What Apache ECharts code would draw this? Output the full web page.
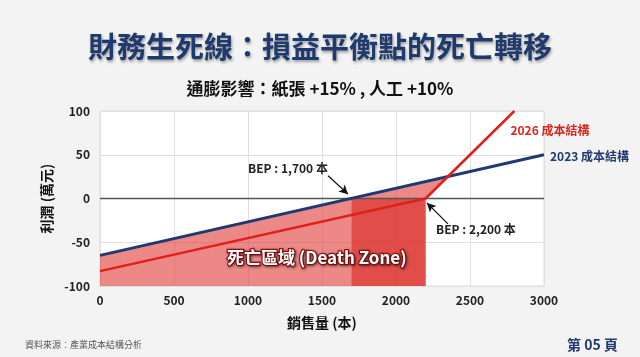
<!DOCTYPE html>
<html><head><meta charset="utf-8">
<script src="https://cdn.jsdelivr.net/npm/echarts@6/dist/echarts.min.js"></script>
<style>html,body{margin:0;padding:0;background:#f3f3f3;}#c{width:640px;height:357px;}</style>
</head><body><div id="c"></div>
<script>
// ---- data ----
const xTicks = [0, 500, 1000, 1500, 2000, 2500, 3000];
const yTicks = [-100, -50, 0, 50, 100];
const line2023X = [0, 3000];
const line2023Y = [-65, 50];
const line2026X = [0, 2200, 2800];
const line2026Y = [-83, 0, 100];
const bep2023 = 1700;
const bep2026 = 2200;
const crossPoint = [2330, 23];
const arrow1 = [[1541, 26], [1676, 5]];
const arrow2 = [[2351, -29], [2209, -5]];
const bepLabels = ['BEP : 1,700 本', 'BEP : 2,200 本'];
const bepLabelPos = [[1270, 34], [2540, -35]];

const F = '"Noto Sans CJK TC","Noto Sans",sans-serif';
const chart = echarts.init(document.getElementById('c'));
const yMin = yTicks[0];
const lightPoly = [[0, yMin], [line2023X[0], line2023Y[0]], crossPoint, [bep2026, 0], [bep2026, yMin]];
const darkPoly = [[bep2023, yMin], [bep2023, 0], [bep2026, 0], [bep2026, yMin]];

function polySeries(poly, color, z) {
  return {
    type: 'custom', z: z, silent: true,
    data: [0],
    renderItem: function (params, api) {
      return { type: 'polygon', shape: { points: poly.map(p => api.coord(p)) }, style: { fill: color } };
    }
  };
}

chart.setOption({
  backgroundColor: '#f3f3f3',
  animation: false,
  title: [
    { text: '財務生死線：損益平衡點的死亡轉移', left: 'center', top: 27,
      textStyle: { fontFamily: F, fontSize: 29, fontWeight: 'bold', color: '#1f3a6e',
        textShadowColor: 'rgba(0,0,0,0.35)', textShadowBlur: 3, textShadowOffsetX: 1, textShadowOffsetY: 2 } },
    { text: '通膨影響：紙張 +15% , 人工 +10%', left: 'center', top: 75,
      textStyle: { fontFamily: F, fontSize: 17, fontWeight: 'bold', color: '#111' } },
    { text: '資料來源：產業成本結構分析', left: 20, top: 335,
      textStyle: { fontFamily: F, fontSize: 9, fontWeight: 'normal', color: '#555' } },
    { text: '第 05 頁', right: 17, top: 333,
      textStyle: { fontFamily: F, fontSize: 14, fontWeight: 'bold', color: '#1f3a6e' } }
  ],
  grid: { left: 100, right: 96, top: 111, bottom: 71, show: true, backgroundColor: '#ffffff', borderColor: '#dcdcdc', borderWidth: 1 },
  xAxis: {
    type: 'value', min: xTicks[0], max: xTicks[xTicks.length - 1], interval: 500,
    name: '銷售量 (本)', nameLocation: 'middle', nameGap: 30,
    nameTextStyle: { fontFamily: F, fontSize: 14, fontWeight: 'bold', color: '#111' },
    axisLine: { show: false }, axisTick: { show: false },
    axisLabel: { fontFamily: F, fontSize: 12, fontWeight: 'bold', color: '#222', margin: 8, formatter: v => String(v) },
    splitLine: { lineStyle: { color: '#e0e0e0' } }
  },
  yAxis: {
    type: 'value', min: yTicks[0], max: yTicks[yTicks.length - 1], interval: 50,
    name: '利潤 (萬元)', nameLocation: 'middle', nameGap: 46, nameRotate: 90,
    nameTextStyle: { fontFamily: F, fontSize: 14, fontWeight: 'bold', color: '#111' },
    axisLine: { show: false }, axisTick: { show: false },
    axisLabel: { fontFamily: F, fontSize: 12, fontWeight: 'bold', color: '#222', margin: 10, formatter: v => String(v) },
    splitLine: { lineStyle: { color: '#e0e0e0' } }
  },
  series: [
    polySeries(lightPoly, 'rgba(224,58,54,0.6)', 1),
    polySeries(darkPoly, 'rgba(218,38,34,0.6)', 2),
    {
      type: 'line', z: 3, symbol: 'none', silent: true,
      data: [[xTicks[0], 0], [xTicks[xTicks.length - 1], 0]],
      lineStyle: { color: '#555', width: 1.5 }
    },
    {
      type: 'line', z: 5, symbol: 'none',
      data: line2023X.map((x, i) => [x, line2023Y[i]]),
      lineStyle: { color: '#1f3a70', width: 3 },
      endLabel: { show: true, formatter: '2023 成本結構', fontFamily: F, fontSize: 12, fontWeight: 'bold', color: '#1f3a70', offset: [-2, 2] }
    },
    {
      type: 'line', z: 6, symbol: 'none',
      data: line2026X.map((x, i) => [x, line2026Y[i]]),
      lineStyle: { color: '#e0201a', width: 2.5 },
      endLabel: { show: true, formatter: '2026 成本結構', fontFamily: F, fontSize: 12, fontWeight: 'bold', color: '#d9261f', offset: [-12, 19] }
    },
    {
      type: 'line', z: 7, symbol: 'none', silent: true, data: [],
      markLine: {
        silent: true, symbol: ['none', 'arrow'], symbolSize: [7, 9],
        lineStyle: { color: '#111', width: 1.3, type: 'solid' }, label: { show: false },
        data: [
          [{ coord: arrow1[0] }, { coord: arrow1[1] }],
          [{ coord: arrow2[0] }, { coord: arrow2[1] }]
        ]
      },
      markPoint: {
        silent: true, symbol: 'rect', symbolSize: 1, itemStyle: { color: 'transparent' },
        label: { show: true, position: 'inside', fontFamily: F, fontSize: 12, fontWeight: 'bold', color: '#222', formatter: p => p.name },
        data: [
          { name: bepLabels[0], coord: bepLabelPos[0] },
          { name: bepLabels[1], coord: bepLabelPos[1] }
        ]
      }
    },
    {
      type: 'line', z: 8, symbol: 'none', silent: true, data: [],
      markPoint: {
        silent: true, symbol: 'rect', symbolSize: 1, itemStyle: { color: 'transparent' },
        label: { show: true, position: 'inside', formatter: '死亡區域 (Death Zone)', fontFamily: F, fontSize: 17, fontWeight: 'bold', color: '#ffffff',
          textBorderColor: '#8b1414', textBorderWidth: 2.5, textShadowColor: 'rgba(0,0,0,0.4)', textShadowBlur: 3, textShadowOffsetX: 1, textShadowOffsetY: 1 },
        data: [{ coord: [1465, -67] }]
      }
    }
  ]
});
</script></body></html>
